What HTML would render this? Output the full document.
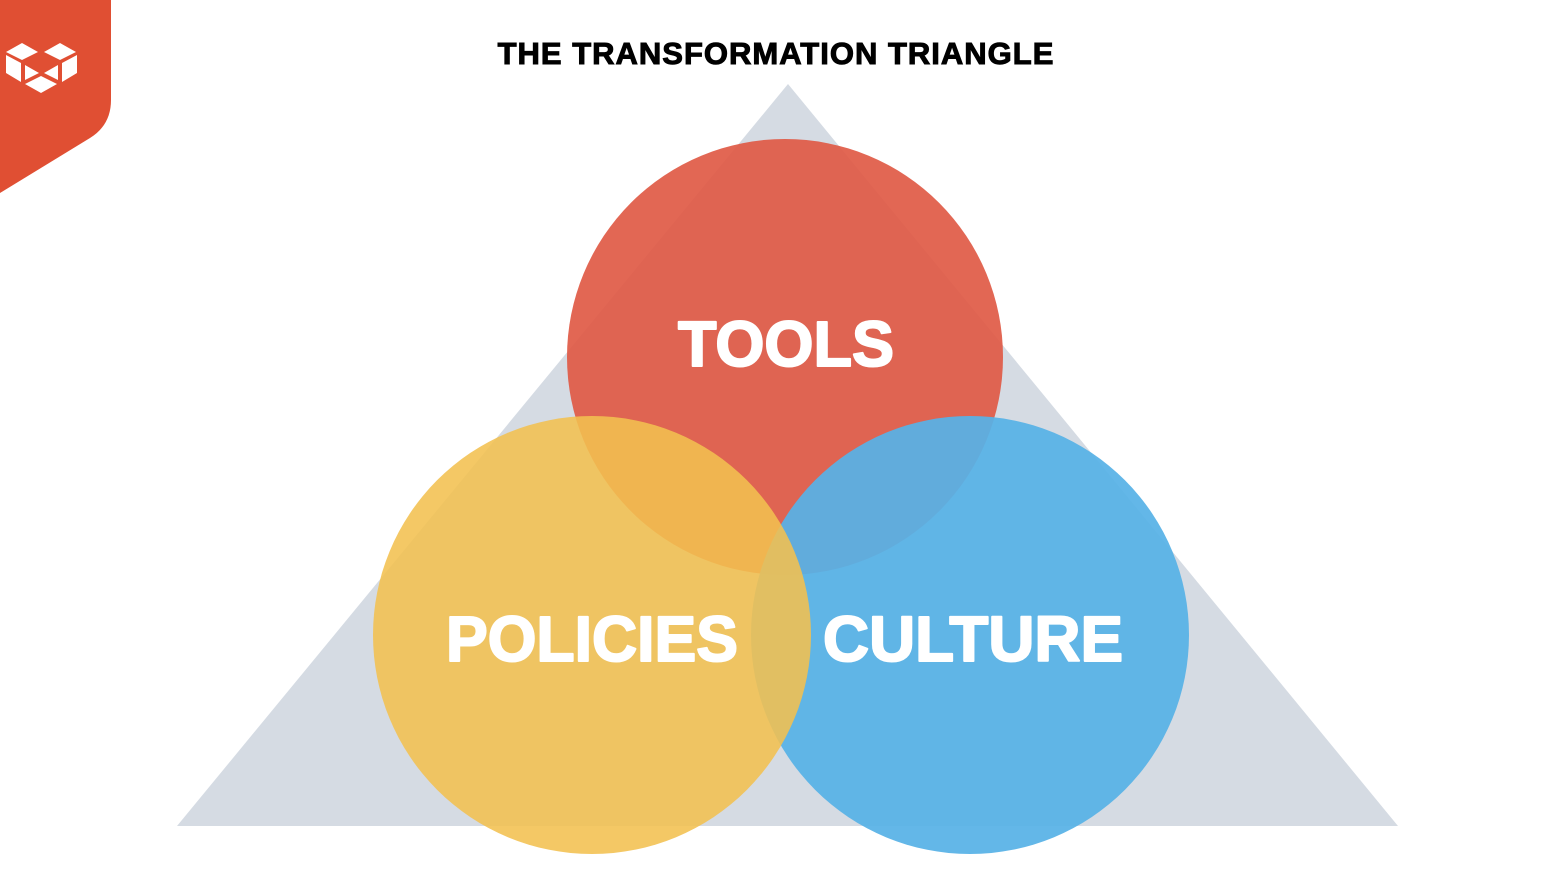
<!DOCTYPE html>
<html><head><style>
html,body{margin:0;padding:0;background:#fff;width:1564px;height:894px;overflow:hidden}
</style></head><body>
<svg width="1564" height="894" viewBox="0 0 1564 894" xmlns="http://www.w3.org/2000/svg">
<path d="M0 0 H111 V100 Q111 125 90 138 L0 193 Z" fill="#e04f33"/>
<g fill="#fff">
<polygon points="6,52 22,43 38,52 22,60"/>
<polygon points="6,55 21,63 21,82 6,73"/>
<polygon points="44,52 60,43 76,52 60,60"/>
<polygon points="62,63 77,55 77,73 62,82"/>
<polygon points="25,65 39,73 25,80"/>
<polygon points="58,65 44,73 58,80"/>
<polygon points="25,84 41,76 57,84 41,93"/>
</g>
<text x="776" y="64" text-anchor="middle" font-family="Liberation Sans, sans-serif" font-weight="900" font-size="31" fill="#000" stroke="#000" stroke-width="1" letter-spacing="1">THE TRANSFORMATION TRIANGLE</text>
<polygon points="788,84 177,826 1398,826" fill="#d5dbe3"/>
<circle cx="785" cy="357" r="218" fill="#e05a45" opacity="0.92"/>
<circle cx="970" cy="635" r="219" fill="#57b1e6" opacity="0.93"/>
<circle cx="592" cy="635" r="219" fill="#f2c050" opacity="0.88"/>
<g font-family="Liberation Sans, sans-serif" font-weight="bold" font-size="64" fill="#fff" text-anchor="middle" stroke="#fff" stroke-width="2" stroke-linejoin="round">
<text x="786" y="366" textLength="216" lengthAdjust="spacingAndGlyphs">TOOLS</text>
<text x="592" y="661" textLength="292" lengthAdjust="spacingAndGlyphs">POLICIES</text>
<text x="973" y="661" textLength="300" lengthAdjust="spacingAndGlyphs">CULTURE</text>
</g>
</svg>
</body></html>
